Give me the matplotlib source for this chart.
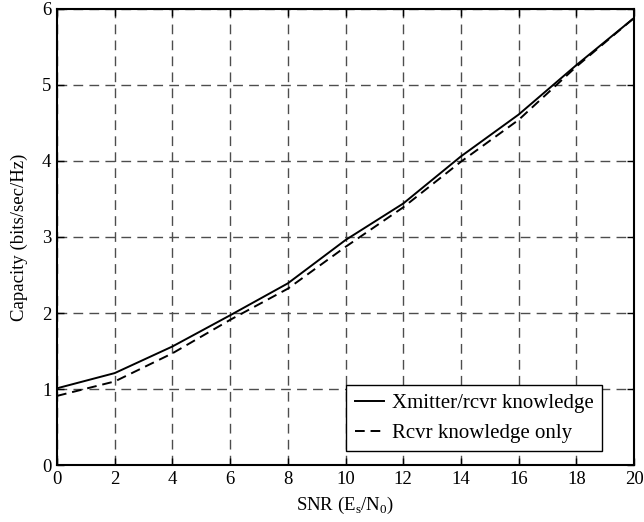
import matplotlib
matplotlib.use("Agg")
from matplotlib import pyplot as plt

snr = [0, 2, 4, 6, 8, 10, 12, 14, 16, 18, 20]
cap_tx_rx = [1.01, 1.21, 1.56, 1.97, 2.39, 2.96, 3.44, 4.06, 4.61, 5.26, 5.88]
cap_rx_only = [0.91, 1.10, 1.47, 1.91, 2.32, 2.87, 3.39, 3.99, 4.54, 5.24, 5.88]

plt.rcParams['font.family'] = ['Liberation Serif', 'DejaVu Serif']
plt.rcParams['font.size'] = 13.5

fig = plt.figure(figsize=(6.44, 5.22), dpi=100)
ax = fig.add_axes([0.0885, 0.109, 0.896, 0.874])

ax.plot(snr, cap_tx_rx, color='black', linestyle='-', linewidth=1.4,
        label='Xmitter/rcvr knowledge')
ax.plot(snr, cap_rx_only, color='black', linestyle=(0, (5, 3)), linewidth=1.4,
        label='Rcvr knowledge only')

ax.set_xlim(0, 20)
ax.set_ylim(0, 6)
ax.set_xticks(range(0, 21, 2))
ax.set_yticks(range(0, 7))
ax.grid(True, color='#4d4d4d', linestyle=(0, (7, 4.5)), linewidth=1.0)
ax.tick_params(direction='in', top=True, right=True, length=5, width=1, pad=4)
for s in ax.spines.values():
    s.set_linewidth(1.5)

ax.set_xlabel(r'SNR (E$_\mathregular{s}$/N$_\mathregular{0}$)', labelpad=5)
ax.set_ylabel('Capacity (bits/sec/Hz)', labelpad=10)

leg = ax.legend(loc='lower right', bbox_to_anchor=(0.945, 0.03),
                fancybox=False, framealpha=1, edgecolor='black', fontsize=15,
                handlelength=1.4, handletextpad=0.4, borderpad=0.4,
                labelspacing=0.5, borderaxespad=0)
leg.get_frame().set_linewidth(1.0)

fig.savefig('out.png', dpi=100)
